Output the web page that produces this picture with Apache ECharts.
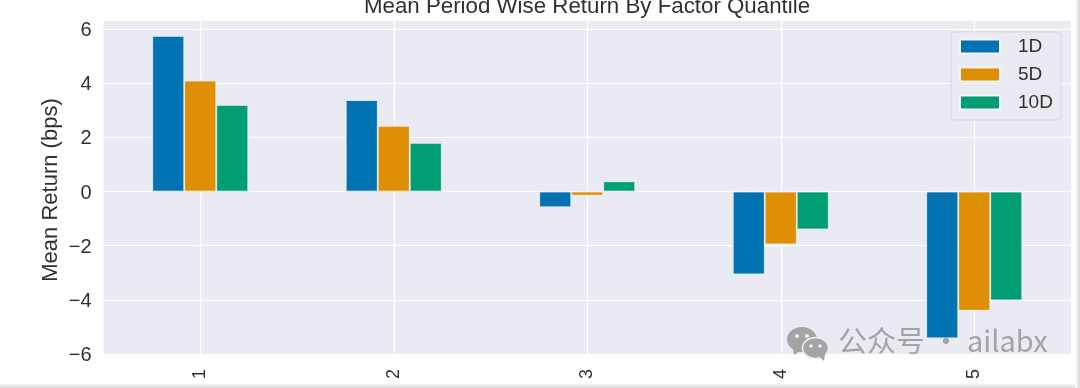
<!DOCTYPE html>
<html>
<head>
<meta charset="utf-8">
<style>
  html, body { margin: 0; padding: 0; background: #fff; overflow: hidden; }
  #chart1 { width: 1080px; height: 388px; }
</style>
<script src="https://cdn.jsdelivr.net/npm/echarts@6/dist/echarts.min.js"></script>
</head>
<body>
<div id="chart1"></div>
<script>
const quantiles = ['1', '2', '3', '4', '5'];
const values1D = [5.75, 3.38, -0.58, -3.06, -5.42];
const values5D = [4.1, 2.43, -0.15, -1.95, -4.4];
const values10D = [3.2, 1.8, 0.38, -1.4, -4.02];
const yTicksMin = -6;
const yTicksMax = 6.3;

const makeBar = (name, data, color) => ({
  name: name,
  type: 'bar',
  data: data,
  barWidth: 32,
  barGap: '0%',
  itemStyle: { color: color, borderColor: '#f2f4f8', borderWidth: 0.8 }
});

const edgeFade = (x2, y2) => ({
  type: 'linear', x: 0, y: 0, x2: x2, y2: y2,
  colorStops: [{ offset: 0, color: '#ffffff' }, { offset: 1, color: '#d8d8d8' }]
});

const getOptionChart1 = () => ({
  animation: false,
  backgroundColor: '#ffffff',
  textStyle: { fontFamily: '"Liberation Sans", Arial, sans-serif' },
  title: {
    text: 'Mean Period Wise Return By Factor Quantile',
    left: 582,
    top: -9,
    textAlign: 'center',
    textStyle: { fontSize: 22.3, fontWeight: 'normal', color: '#303030' }
  },
  legend: {
    data: ['1D', '5D', '10D'],
    orient: 'vertical',
    left: 951,
    top: 32,
    padding: [5, 8, 8, 8],
    itemWidth: 40,
    itemHeight: 14,
    itemGap: 9,
    icon: 'rect',
    backgroundColor: 'rgba(234,234,242,0.8)',
    borderColor: '#d6d6dc',
    borderWidth: 1,
    borderRadius: 3,
    textStyle: { fontSize: 19, color: '#303030', padding: [0, 0, 0, 13] }
  },
  grid: { left: 103.5, right: 9, top: 21, bottom: 34, show: true, backgroundColor: '#eaeaf2', borderWidth: 0 },
  xAxis: {
    type: 'category',
    data: quantiles,
    axisLine: { show: false },
    axisTick: { show: false },
    axisLabel: { rotate: 90, fontSize: 18, color: '#303030', margin: 15 },
    splitLine: { show: true, alignWithLabel: true, lineStyle: { color: '#ffffff', width: 1.2 } }
  },
  yAxis: {
    type: 'value',
    name: 'Mean Return (bps)',
    nameLocation: 'middle',
    nameGap: 42,
    nameMoveOverlap: false,
    nameTextStyle: { fontSize: 22, color: '#303030', padding: [0, 5, 0, 0] },
    min: yTicksMin,
    max: yTicksMax,
    interval: 2,
    axisLine: { show: false },
    axisTick: { show: false },
    axisLabel: {
      color: '#303030',
      margin: 12,
      showMaxLabel: false,
      formatter: (v) => '{tick|' + String(v).replace('-', '\u2212') + '}',
      rich: { tick: { fontSize: 20, color: '#303030', padding: [3, 0, 0, 0] } }
    },
    splitLine: { show: true, showMaxLine: false, lineStyle: { color: '#ffffff', width: 1.2 } }
  },
  series: [
    makeBar('1D', values1D, '#0173b2'),
    makeBar('5D', values5D, '#de8f05'),
    makeBar('10D', values10D, '#029e73')
  ],
  graphic: [
    // grey edge left by the screenshot
    { type: 'rect', shape: { x: 0, y: 383, width: 1080, height: 5 }, style: { fill: edgeFade(0, 1) }, z: 50 },
    { type: 'rect', shape: { x: 1075, y: 0, width: 5, height: 388 }, style: { fill: edgeFade(1, 0) }, z: 50 },
    // watermark
    { type: 'ellipse', shape: { cx: 802, cy: 339.5, rx: 15, ry: 12.5 }, style: { fill: '#a4a4a4' }, z: 60 },
    { type: 'polygon', shape: { points: [[793, 348], [800, 351], [794, 355]] }, style: { fill: '#a4a4a4' }, z: 60 },
    { type: 'circle', shape: { cx: 797, cy: 336, r: 2 }, style: { fill: '#eeeef3' }, z: 61 },
    { type: 'circle', shape: { cx: 807, cy: 336, r: 2 }, style: { fill: '#eeeef3' }, z: 61 },
    { type: 'ellipse', shape: { cx: 815.5, cy: 348, rx: 13, ry: 10.5 }, style: { fill: '#a4a4a4', stroke: '#eeeef3', lineWidth: 1.5 }, z: 62 },
    { type: 'polygon', shape: { points: [[819, 356], [825, 354], [824, 361]] }, style: { fill: '#a4a4a4' }, z: 62 },
    { type: 'circle', shape: { cx: 811, cy: 346, r: 1.8 }, style: { fill: '#eeeef3' }, z: 63 },
    { type: 'circle', shape: { cx: 820, cy: 346, r: 1.8 }, style: { fill: '#eeeef3' }, z: 63 },
    {
      type: 'text',
      left: 838,
      top: 326,
      style: { text: '公众号 · ailabx', fontSize: 29, fill: 'rgba(150,150,150,0.85)', fontFamily: '"Noto Sans CJK SC", "Noto Sans", sans-serif' },
      z: 60
    }
  ]
});

const chart1 = echarts.init(document.getElementById('chart1'));
chart1.setOption(getOptionChart1());
</script>
</body>
</html>
